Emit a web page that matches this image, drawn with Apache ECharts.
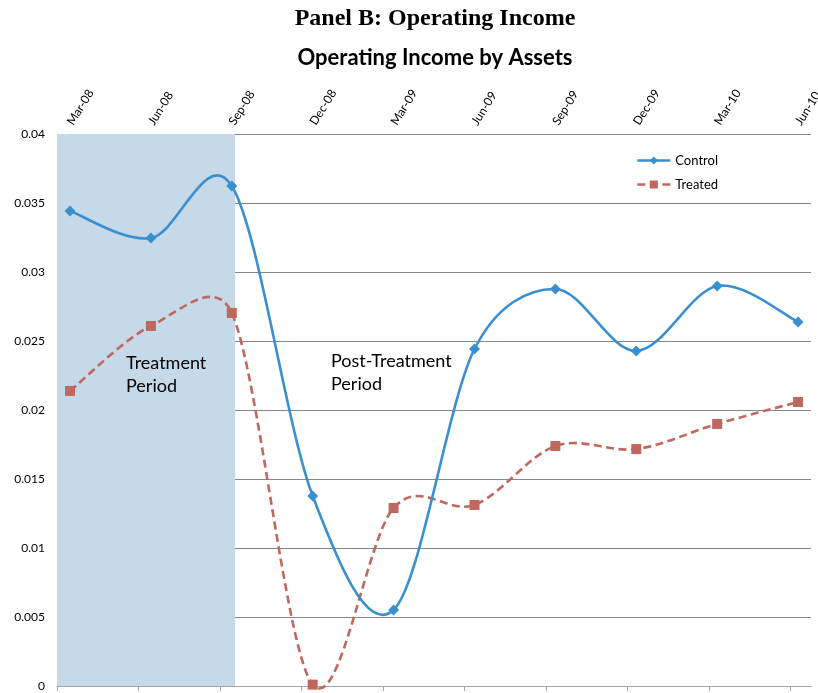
<!DOCTYPE html>
<html>
<head>
<meta charset="utf-8">
<script src="https://cdn.jsdelivr.net/npm/echarts@6/dist/echarts.min.js"></script>
<style>html,body{margin:0;padding:0;background:#fff}#c{width:818px;height:693px}</style>
</head>
<body>
<div id="c"></div>
<script>
const categories = ['Mar-08','Jun-08','Sep-08','Dec-08','Mar-09','Jun-09','Sep-09','Dec-09','Mar-10','Jun-10'];
const controlValues = [0.03442, 0.03246, 0.03623, 0.01377, 0.00551, 0.02442, 0.02877, 0.02428, 0.02899, 0.02638];
const treatedValues = [0.02138, 0.02609, 0.02703, 0.0001, 0.0129, 0.01312, 0.01739, 0.01717, 0.01899, 0.02058];
const yTicks = [0, 0.005, 0.01, 0.015, 0.02, 0.025, 0.03, 0.035, 0.04];

const X_MIN = -0.161, X_MAX = 9.16, TICK_STEP = 1.0074, SHADE_END = 2.04;
const idx = categories.map((_, i) => i);
const bottomTicks = [];
for (let k = 0; k < 10; k++) bottomTicks.push(X_MIN + k * TICK_STEP);

const BLUE = '#3a8fd0', RED = '#c0675e';
const DASH = [8, 4.5];
const font = 'Lato, "Open Sans", sans-serif';

// Spreadsheet-style smoothing: Catmull-Rom tangents, control arm capped at half the segment length
function smoothRender(values, color, dash) {
  return function (params, api) {
    const pts = values.map((v, i) => api.coord([i, v]));
    const n = pts.length;
    const dist = (a, b) => Math.hypot(a[0] - b[0], a[1] - b[1]);
    const arm = (prev, cur, next, seg) => {
      let dx = (next[0] - prev[0]) / 6, dy = (next[1] - prev[1]) / 6;
      const len = Math.hypot(dx, dy), cap = 0.5 * seg;
      if (len > cap && len > 0) { dx *= cap / len; dy *= cap / len; }
      return [dx, dy];
    };
    let d = 'M' + pts[0][0] + ' ' + pts[0][1];
    for (let i = 0; i < n - 1; i++) {
      const p0 = pts[Math.max(i - 1, 0)], p1 = pts[i], p2 = pts[i + 1], p3 = pts[Math.min(i + 2, n - 1)];
      const seg = dist(p1, p2);
      const a1 = arm(p0, p1, p2, seg), a2 = arm(p1, p2, p3, seg);
      d += ' C' + (p1[0] + a1[0]) + ' ' + (p1[1] + a1[1]) + ' ' + (p2[0] - a2[0]) + ' ' + (p2[1] - a2[1]) + ' ' + p2[0] + ' ' + p2[1];
    }
    return {
      type: 'path',
      shape: { pathData: d },
      style: { fill: null, stroke: color, lineWidth: 2.6, lineDash: dash }
    };
  };
}

const chart = echarts.init(document.getElementById('c'));
chart.setOption({
  animation: false,
  grid: { left: 57, right: 7, top: 134, bottom: 7, containLabel: false, outerBoundsMode: 'none' },
  graphic: [
    { type: 'text', z: 100, x: 435, y: 7, style: { text: 'Panel B: Operating Income', font: 'bold 24px "Liberation Serif", serif', fill: '#000', textAlign: 'center' } },
    { type: 'text', z: 100, x: 435, y: 47, style: { text: 'Operating Income by Assets', font: 'bold 22px ' + font, fill: '#000', textAlign: 'center' } },
    { type: 'text', z: 100, x: 126, y: 352, style: { text: 'Treatment\nPeriod', font: '18px ' + font, lineHeight: 23, fill: '#000' } },
    { type: 'text', z: 100, x: 331, y: 350, style: { text: 'Post-Treatment\nPeriod', font: '18px ' + font, lineHeight: 23, fill: '#000' } }
  ],
  legend: {
    orient: 'vertical', left: 631, top: 149, itemWidth: 33, itemHeight: 10, itemGap: 11,
    textStyle: { fontFamily: font, fontSize: 13, color: '#000' },
    data: [
      { name: 'Control', lineStyle: { opacity: 1, width: 2.6, color: BLUE, type: 'solid' } },
      { name: 'Treated', lineStyle: { opacity: 1, width: 2.6, color: RED, type: DASH } }
    ]
  },
  xAxis: [
    {
      type: 'value', position: 'bottom', min: X_MIN, max: X_MAX,
      axisLine: { show: true, lineStyle: { color: '#a6a6a6', width: 1 } },
      axisTick: { show: true, length: 5, lineStyle: { color: '#a6a6a6' }, customValues: bottomTicks },
      axisLabel: { show: false },
      splitLine: { show: false }
    },
    {
      type: 'value', position: 'top', min: X_MIN, max: X_MAX,
      axisLine: { show: false }, axisTick: { show: false }, splitLine: { show: false },
      axisLabel: {
        show: true, rotate: -58, margin: 10, customValues: idx,
        fontFamily: font, fontSize: 12, color: '#000',
        formatter: v => categories[Math.round(v)]
      }
    }
  ],
  yAxis: {
    type: 'value', min: 0, max: 0.04, interval: 0.005,
    axisLine: { show: true, lineStyle: { color: '#a6a6a6' } },
    axisTick: { show: true, length: 5, lineStyle: { color: '#a6a6a6' } },
    axisLabel: { fontFamily: font, fontSize: 12, color: '#000', margin: 12,
      formatter: v => { const t = yTicks.find(x => Math.abs(x - v) < 1e-9); return String(t !== undefined ? t : v); } },
    splitLine: { show: true, lineStyle: { color: '#868686', width: 1 } }
  },
  series: [
    {
      name: 'ControlCurve', type: 'custom', xAxisIndex: 0, data: [[0, controlValues[0]]],
      renderItem: smoothRender(controlValues, BLUE, null), clip: false, silent: true, z: 3
    },
    {
      name: 'TreatedCurve', type: 'custom', xAxisIndex: 0, data: [[0, treatedValues[0]]],
      renderItem: smoothRender(treatedValues, RED, DASH), clip: false, silent: true, z: 2
    },
    {
      name: 'Control', type: 'line', xAxisIndex: 0,
      data: idx.map(i => [i, controlValues[i]]),
      symbol: 'diamond', symbolSize: 11,
      lineStyle: { color: BLUE, width: 2.6, opacity: 0 },
      itemStyle: { color: BLUE },
      clip: false, z: 5,
      markArea: {
        silent: true,
        itemStyle: { color: '#c5d9e8' },
        data: [[{ xAxis: X_MIN }, { xAxis: SHADE_END }]]
      }
    },
    {
      name: 'Treated', type: 'line', xAxisIndex: 0,
      data: idx.map(i => [i, treatedValues[i]]),
      symbol: 'rect', symbolSize: 10,
      lineStyle: { color: RED, width: 2.6, opacity: 0 },
      itemStyle: { color: RED },
      clip: false, z: 4
    }
  ]
});
</script>
</body>
</html>
